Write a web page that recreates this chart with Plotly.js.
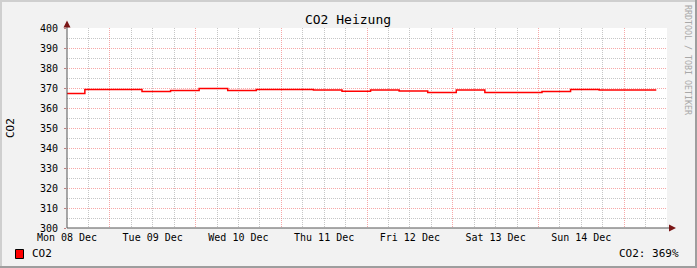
<!DOCTYPE html>
<html>
<head>
<meta charset="utf-8">
<script src="https://cdn.plot.ly/plotly-3.0.1.min.js"></script>
<style>html,body{margin:0;padding:0;background:#f2f2f2;}#chart{width:697px;height:268px;}</style>
</head>
<body>
<div id="chart"></div>
<script>
// Step boundaries (start of each averaging bin) and CO2 values
var times = [
  '2014-12-08 12:00','2014-12-08 17:00','2014-12-09 09:00','2014-12-09 17:00',
  '2014-12-10 01:00','2014-12-10 09:00','2014-12-10 17:00','2014-12-11 09:00',
  '2014-12-11 17:00','2014-12-12 01:00','2014-12-12 09:00','2014-12-12 17:00',
  '2014-12-13 01:00','2014-12-13 09:00','2014-12-14 01:00','2014-12-14 09:00',
  '2014-12-14 17:00','2014-12-15 09:00'
];
var co2 = [
  367.3, 369.3, 368.3, 368.8,
  369.8, 368.8, 369.3, 369.0,
  368.4, 369.0, 368.5, 367.8,
  369.0, 367.8, 368.3, 369.3,
  369.0, 369.0
];
var dayTickVals = ['2014-12-08 12:00','2014-12-09 12:00','2014-12-10 12:00','2014-12-11 12:00',
                   '2014-12-12 12:00','2014-12-13 12:00','2014-12-14 12:00'];
var dayTickText = ['Mon 08 Dec','Tue 09 Dec','Wed 10 Dec','Thu 11 Dec','Fri 12 Dec','Sat 13 Dec','Sun 14 Dec'];
var xRange = ['2014-12-08 12:00','2014-12-15 12:00'];
var yRange = [300, 400];
var seriesName = 'CO2';
var lastText = 'CO2: 369%';

var MONO = 'DejaVu Sans Mono, monospace';
var majorGrid = 'rgba(240,110,110,0.6)';
var minorGrid = 'rgba(160,160,160,0.6)';

var traces = [
  {x: times, y: co2, type: 'scatter', mode: 'lines', line: {shape: 'hv', color: '#ff0000', width: 1.5},
   xaxis: 'x', yaxis: 'y', showlegend: false, hoverinfo: 'skip'},
  {x: [xRange[0]], y: [null], type: 'scatter', mode: 'lines', xaxis: 'x2', yaxis: 'y',
   showlegend: false, hoverinfo: 'skip'}
];

function px(x){return (x-67)/600;}
function py(y){return (228-y)/200;}

var layout = {
  width: 697, height: 268,
  margin: {l: 67, r: 30, t: 28, b: 40, pad: 0},
  paper_bgcolor: '#f2f2f2',
  plot_bgcolor: '#ffffff',
  showlegend: false,
  title: {text: 'CO2 Heizung', font: {family: MONO, size: 13, color: '#000'},
          xref: 'paper', x: px(348), xanchor: 'center', yref: 'container', y: 1-19/268, yanchor: 'middle'},
  xaxis: {
    type: 'date', range: xRange, tickmode: 'linear', tick0: '2014-12-08 00:00', dtick: 86400000,
    showticklabels: false, ticks: '', showgrid: true, gridcolor: majorGrid, griddash: '1px,1px', gridwidth: 1,
    minor: {tickmode: 'linear', tick0: '2014-12-08 00:00', dtick: 21600000, showgrid: true,
            gridcolor: minorGrid, griddash: '1px,1px', gridwidth: 1, ticks: ''},
    zeroline: false, showline: false, fixedrange: true
  },
  xaxis2: {
    type: 'date', range: xRange, overlaying: 'x', anchor: 'y', side: 'bottom',
    tickmode: 'array', tickvals: dayTickVals, ticktext: dayTickText,
    showgrid: false, zeroline: false, showline: false, ticks: '',
    tickfont: {family: MONO, size: 10, color: '#000'}, ticklabelstandoff: 2
  },
  yaxis: {
    range: yRange, tickmode: 'linear', tick0: 300, dtick: 10,
    showgrid: true, gridcolor: majorGrid, griddash: '1px,1px', gridwidth: 1,
    minor: {tickmode: 'linear', tick0: 305, dtick: 10, showgrid: true, gridcolor: minorGrid,
            griddash: '1px,1px', gridwidth: 1, ticks: ''},
    ticks: 'outside', ticklen: 2, tickcolor: '#c08080',
    tickfont: {family: MONO, size: 10, color: '#000'}, ticklabelstandoff: 4,
    zeroline: false, showline: false, fixedrange: true
  },
  shapes: [
    // axis lines
    {type: 'line', xref: 'paper', yref: 'paper', x0: 0, x1: 0, y0: 0, y1: py(23), line: {color: '#555', width: 1}},
    {type: 'line', xref: 'paper', yref: 'paper', x0: 0, x1: px(673), y0: 0, y1: 0, line: {color: '#555', width: 1}},
    // arrow heads
    {type: 'path', xref: 'paper', yref: 'paper', path: 'M ' + px(63.5) + ' ' + py(27.5) + ' L ' + px(67) + ' ' + py(20.5) + ' L ' + px(70.5) + ' ' + py(27.5) + ' Z',
     fillcolor: '#7a1616', line: {width: 0}},
    {type: 'path', xref: 'paper', yref: 'paper', path: 'M ' + px(669) + ' ' + py(224.5) + ' L ' + px(676) + ' ' + py(228) + ' L ' + px(669) + ' ' + py(231.5) + ' Z',
     fillcolor: '#7a1616', line: {width: 0}},
    // legend box
    {type: 'rect', xref: 'paper', yref: 'paper', x0: px(15.5), x1: px(23.5), y0: py(258.5), y1: py(249.5),
     fillcolor: '#ff0000', line: {color: '#000', width: 1}},
    // frame shading
    {type: 'rect', xref: 'paper', yref: 'paper', x0: px(0), x1: px(2), y0: py(0), y1: py(268), fillcolor: '#cfcfcf', line: {width: 0}},
    {type: 'rect', xref: 'paper', yref: 'paper', x0: px(0), x1: px(697), y0: py(0), y1: py(2), fillcolor: '#cfcfcf', line: {width: 0}},
    {type: 'rect', xref: 'paper', yref: 'paper', x0: px(695), x1: px(697), y0: py(0), y1: py(268), fillcolor: '#9e9e9e', line: {width: 0}},
    {type: 'rect', xref: 'paper', yref: 'paper', x0: px(0), x1: px(697), y0: py(266), y1: py(268), fillcolor: '#9e9e9e', line: {width: 0}}
  ],
  annotations: [
    {text: 'CO2', xref: 'paper', yref: 'paper', x: px(10), y: py(128), textangle: -90, showarrow: false,
     xanchor: 'center', yanchor: 'middle', font: {family: MONO, size: 11, color: '#000'}},
    {text: 'RRDTOOL / TOBI OETIKER', xref: 'paper', yref: 'paper', x: px(688), y: py(60), textangle: 90, showarrow: false,
     xanchor: 'center', yanchor: 'middle', font: {family: MONO, size: 8.3, color: '#a8a8a8'}},
    {text: seriesName, xref: 'paper', yref: 'paper', x: px(30), y: py(254), showarrow: false,
     xanchor: 'left', yanchor: 'middle', font: {family: MONO, size: 11, color: '#000'}},
    {text: lastText, xref: 'paper', yref: 'paper', x: px(681), y: py(254), showarrow: false,
     xanchor: 'right', yanchor: 'middle', font: {family: MONO, size: 11, color: '#000'}}
  ]
};

Plotly.newPlot('chart', traces, layout, {displayModeBar: false, staticPlot: true});
</script>
</body>
</html>
